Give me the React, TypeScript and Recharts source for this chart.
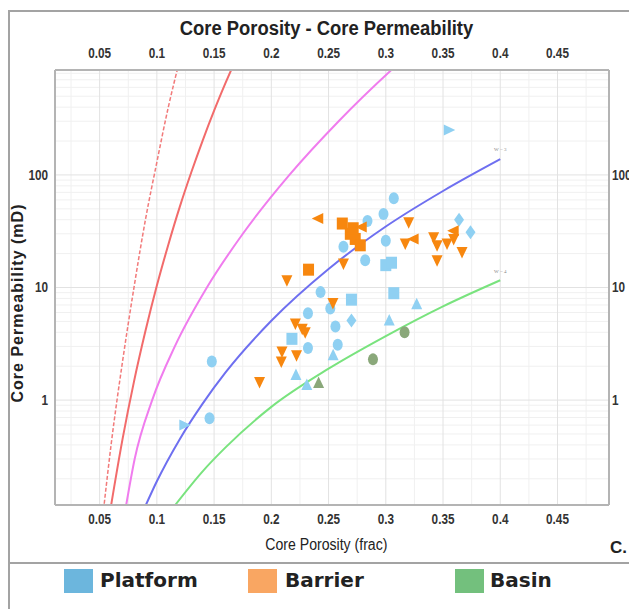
import { ComposedChart, Line, Scatter, XAxis, YAxis, ReferenceLine, ReferenceDot } from "recharts";

const NARROW = '"Liberation Sans Narrow", "Liberation Sans", Arial, sans-serif';
const WIDE = '"DejaVu Sans", Verdana, sans-serif';

// axis ticks
const xTicks = [0.05, 0.1, 0.15, 0.2, 0.25, 0.3, 0.35, 0.4, 0.45];
const xMinor = [0.025, 0.075, 0.125, 0.175, 0.225, 0.275, 0.325, 0.375, 0.425, 0.475];
const yTicks = [1, 10, 100];
const yMinor = [
  0.2, 0.3, 0.4, 0.5, 0.6, 0.7, 0.8, 0.9,
  2, 3, 4, 5, 6, 7, 8, 9,
  20, 30, 40, 50, 60, 70, 80, 90,
  200, 300, 400, 500, 600, 700, 800,
];

// reference curves (porosity, permeability)
const redDashed = [
  { phi: 0.054, k: 0.12 }, { phi: 0.06, k: 0.4 }, { phi: 0.07, k: 2.2 }, { phi: 0.08, k: 10 },
  { phi: 0.09, k: 40 }, { phi: 0.1, k: 130 }, { phi: 0.11, k: 400 }, { phi: 0.12, k: 1050 },
];
const redSolid = [
  { phi: 0.06, k: 0.116 }, { phi: 0.07, k: 0.45 }, { phi: 0.08, k: 1.46 }, { phi: 0.09, k: 4.1 },
  { phi: 0.1, k: 10.4 }, { phi: 0.11, k: 24 }, { phi: 0.12, k: 52 }, { phi: 0.13, k: 105 },
  { phi: 0.14, k: 202 }, { phi: 0.15, k: 372 }, { phi: 0.16, k: 656 }, { phi: 0.17, k: 1120 },
];
const magenta = [
  { phi: 0.0732, k: 0.117 }, { phi: 0.0806, k: 0.3 }, { phi: 0.0959, k: 1 }, { phi: 0.1157, k: 3 },
  { phi: 0.1437, k: 10 }, { phi: 0.1751, k: 30 }, { phi: 0.2158, k: 100 }, { phi: 0.2588, k: 300 },
  { phi: 0.3046, k: 850 }, { phi: 0.3209, k: 1200 },
];
const blueW3 = [
  { phi: 0.0904, k: 0.117 }, { phi: 0.1, k: 0.19 }, { phi: 0.12, k: 0.45 }, { phi: 0.14, k: 0.93 },
  { phi: 0.16, k: 1.76 }, { phi: 0.2, k: 5.06 }, { phi: 0.25, k: 14.6 }, { phi: 0.3, k: 34.8 },
  { phi: 0.35, k: 72 }, { phi: 0.4, k: 138 },
];
const greenW4 = [
  { phi: 0.116, k: 0.117 }, { phi: 0.14, k: 0.233 }, { phi: 0.16, k: 0.38 }, { phi: 0.2, k: 0.87 },
  { phi: 0.25, k: 1.9 }, { phi: 0.3, k: 3.7 }, { phi: 0.35, k: 6.8 }, { phi: 0.4, k: 11.6 },
];

// samples: c circle, s square, t triangle, v down triangle, l left, r right, d diamond
const platform = [
  { phi: 0.355, k: 250, m: "r" }, { phi: 0.307, k: 62, m: "c" }, { phi: 0.298, k: 45, m: "c" },
  { phi: 0.284, k: 39, m: "c" }, { phi: 0.263, k: 23, m: "c" }, { phi: 0.282, k: 17.5, m: "c" },
  { phi: 0.3, k: 26, m: "c" }, { phi: 0.3, k: 15.8, m: "s" }, { phi: 0.305, k: 16.6, m: "s" },
  { phi: 0.243, k: 9.1, m: "c" }, { phi: 0.232, k: 5.9, m: "c" }, { phi: 0.256, k: 4.5, m: "c" },
  { phi: 0.27, k: 7.8, m: "s" }, { phi: 0.307, k: 8.9, m: "s" }, { phi: 0.327, k: 7.1, m: "t" },
  { phi: 0.27, k: 5.1, m: "d" }, { phi: 0.303, k: 5.1, m: "t" }, { phi: 0.2515, k: 6.5, m: "c" },
  { phi: 0.364, k: 40, m: "d" }, { phi: 0.374, k: 31, m: "d" }, { phi: 0.232, k: 2.9, m: "c" },
  { phi: 0.258, k: 3.1, m: "c" }, { phi: 0.254, k: 2.5, m: "t" }, { phi: 0.231, k: 1.36, m: "t" },
  { phi: 0.218, k: 3.5, m: "s" }, { phi: 0.148, k: 2.2, m: "c" }, { phi: 0.146, k: 0.69, m: "c" },
  { phi: 0.124, k: 0.6, m: "r" }, { phi: 0.2215, k: 1.67, m: "t" },
];
const barrier = [
  { phi: 0.241, k: 41, m: "l" }, { phi: 0.2325, k: 14.4, m: "s" }, { phi: 0.2136, k: 11.6, m: "v" },
  { phi: 0.262, k: 37, m: "s" }, { phi: 0.269, k: 30, m: "s" }, { phi: 0.2733, k: 27, m: "s" },
  { phi: 0.2777, k: 23.7, m: "s" }, { phi: 0.2715, k: 33.6, m: "s" }, { phi: 0.279, k: 34.5, m: "l" },
  { phi: 0.263, k: 16.3, m: "v" }, { phi: 0.2538, k: 7.3, m: "v" }, { phi: 0.221, k: 4.8, m: "v" },
  { phi: 0.227, k: 4.3, m: "v" }, { phi: 0.2296, k: 4.0, m: "v" }, { phi: 0.2093, k: 2.7, m: "v" },
  { phi: 0.2087, k: 2.2, m: "v" }, { phi: 0.222, k: 2.5, m: "v" }, { phi: 0.1897, k: 1.45, m: "v" },
  { phi: 0.32, k: 38, m: "v" }, { phi: 0.3243, k: 27, m: "l" }, { phi: 0.317, k: 24.6, m: "v" },
  { phi: 0.3418, k: 28, m: "v" }, { phi: 0.3448, k: 23.7, m: "v" }, { phi: 0.3535, k: 24.6, m: "v" },
  { phi: 0.3593, k: 32, m: "l" }, { phi: 0.3593, k: 27, m: "v" }, { phi: 0.3666, k: 20.7, m: "v" },
  { phi: 0.3448, k: 17.5, m: "v" },
];
const basin = [
  { phi: 0.2413, k: 1.42, m: "t" }, { phi: 0.3164, k: 4.0, m: "c" }, { phi: 0.2888, k: 2.3, m: "c" },
];

const legendItems = [
  { name: "Platform", color: "#6cb6dd", left: 56, textLeft: 92 },
  { name: "Barrier", color: "#f9a662", left: 240, textLeft: 277 },
  { name: "Basin", color: "#73c07d", left: 447, textLeft: 482 },
];

const Marker = (props: any) => {
  const { cx, cy, fill, payload } = props;
  if (cx == null || cy == null) return null;
  switch (payload.m) {
    case "s":
      return <rect x={cx - 5.5} y={cy - 6} width={11} height={12} fill={fill} />;
    case "t":
      return <polygon points={`${cx},${cy - 6.5} ${cx + 5.5},${cy + 5} ${cx - 5.5},${cy + 5}`} fill={fill} />;
    case "v":
      return <polygon points={`${cx - 5.5},${cy - 5} ${cx + 5.5},${cy - 5} ${cx},${cy + 6.5}`} fill={fill} />;
    case "l":
      return <polygon points={`${cx - 6.5},${cy} ${cx + 5},${cy - 5.5} ${cx + 5},${cy + 5.5}`} fill={fill} />;
    case "r":
      return <polygon points={`${cx + 6.5},${cy} ${cx - 5},${cy - 5.5} ${cx - 5},${cy + 5.5}`} fill={fill} />;
    case "d":
      return <polygon points={`${cx},${cy - 7} ${cx + 5},${cy} ${cx},${cy + 7} ${cx - 5},${cy}`} fill={fill} />;
    default:
      return <ellipse cx={cx} cy={cy} rx={5} ry={6} fill={fill} />;
  }
};

// condensed tick text (no narrow font installed)
const CondTick = (props: any) => {
  const { x, y, payload, textAnchor, verticalAnchor } = props;
  const dy = verticalAnchor === "start" ? "0.71em" : verticalAnchor === "end" ? "0" : "0.355em";
  return (
    <g transform={`translate(${x},${y}) scale(0.84,1)`}>
      <text x={0} y={0} dy={dy} textAnchor={textAnchor} fontSize={14} fontWeight="bold" fill="#333" fontFamily={NARROW}>
        {payload.value}
      </text>
    </g>
  );
};

const X_DOMAIN: [number, number] = [0.011, 0.495];
const Y_DOMAIN: [number, number] = [0.117, 855];

export default function App() {
  return (
    <div style={{ position: "relative", width: 629, height: 601, overflow: "hidden", background: "#fff" }}>
      <style>{`html, body { overflow: hidden; }`}</style>
      {/* outer frame */}
      <div style={{ position: "absolute", left: 0, top: 2, width: 660, height: 554, border: "2px solid #a3a3a3", boxSizing: "border-box" }} />
      <div style={{ position: "absolute", left: 0, top: 2, width: 2, height: 620, background: "#a3a3a3" }} />

      <div style={{ position: "absolute", left: 0, top: 0 }}>
        <ComposedChart width={629} height={552} margin={{ top: 40, right: 6, bottom: 33, left: 7 }}>
          <XAxis
            type="number"
            dataKey="phi"
            domain={X_DOMAIN}
            allowDataOverflow
            ticks={xTicks}
            tick={<CondTick />}
            tickLine={false}
            tickSize={0}
            tickMargin={9}
            height={22}
            axisLine={{ stroke: "#b4b4b4", strokeWidth: 2 }}
          />
          <XAxis
            xAxisId="top"
            orientation="top"
            type="number"
            dataKey="phi"
            domain={X_DOMAIN}
            allowDataOverflow
            ticks={xTicks}
            tick={<CondTick />}
            tickLine={false}
            tickSize={0}
            tickMargin={12}
            height={22}
            axisLine={{ stroke: "#b4b4b4", strokeWidth: 2 }}
          />
          <YAxis
            type="number"
            dataKey="k"
            scale="log"
            domain={Y_DOMAIN}
            allowDataOverflow
            ticks={yTicks}
            tick={<CondTick />}
            tickLine={false}
            tickSize={0}
            tickMargin={7}
            width={40}
            axisLine={{ stroke: "#b4b4b4", strokeWidth: 2 }}
          />
          <YAxis
            yAxisId="right"
            orientation="right"
            type="number"
            scale="log"
            domain={Y_DOMAIN}
            allowDataOverflow
            ticks={yTicks}
            tick={<CondTick />}
            tickLine={false}
            tickSize={0}
            tickMargin={3}
            width={22}
            axisLine={{ stroke: "#b4b4b4", strokeWidth: 2 }}
          />

          {/* grid */}
          {xMinor.map((v) => (
            <ReferenceLine key={`xm${v}`} x={v} stroke="#f0f0f0" strokeWidth={1} />
          ))}
          {yMinor.map((v) => (
            <ReferenceLine key={`ym${v}`} y={v} stroke="#f0f0f0" strokeWidth={1} />
          ))}
          {xTicks.map((v) => (
            <ReferenceLine key={`x${v}`} x={v} stroke="#e2e2e2" strokeWidth={1} />
          ))}
          {yTicks.map((v) => (
            <ReferenceLine key={`y${v}`} y={v} stroke="#e2e2e2" strokeWidth={1} />
          ))}

          {/* curves */}
          <Line data={redDashed} dataKey="k" type="monotone" stroke="#f27a7a" strokeWidth={1.5} strokeDasharray="4 2" dot={false} isAnimationActive={false} />
          <Line data={redSolid} dataKey="k" type="monotone" stroke="#f26b6b" strokeWidth={2} dot={false} isAnimationActive={false} />
          <Line data={magenta} dataKey="k" type="monotone" stroke="#f07cee" strokeWidth={2} dot={false} isAnimationActive={false} />
          <Line data={blueW3} dataKey="k" type="monotone" stroke="#6e6ff0" strokeWidth={2} dot={false} isAnimationActive={false} />
          <Line data={greenW4} dataKey="k" type="monotone" stroke="#79e37e" strokeWidth={2} dot={false} isAnimationActive={false} />
          <ReferenceDot x={0.4} y={168} r={0} label={{ value: "W = 3", fontSize: 5, fill: "#888" }} />
          <ReferenceDot x={0.4} y={14} r={0} label={{ value: "W = 4", fontSize: 5, fill: "#888" }} />

          {/* samples */}
          <Scatter name="Platform" data={platform} dataKey="k" fill="#8fd0f2" shape={Marker} isAnimationActive={false} />
          <Scatter name="Barrier" data={barrier} dataKey="k" fill="#f7870f" shape={Marker} isAnimationActive={false} />
          <Scatter name="Basin" data={basin} dataKey="k" fill="#8aa87a" shape={Marker} isAnimationActive={false} />
        </ComposedChart>
      </div>

      {/* title */}
      <div style={{ position: "absolute", left: 0, width: 636, top: 9, textAlign: "center" }}>
        <span style={{ display: "inline-block", transform: "scaleX(0.92)", fontFamily: NARROW, fontWeight: "bold", fontSize: 20, color: "#222" }}>
          Core Porosity - Core Permeability
        </span>
      </div>

      {/* y label */}
      <div
        style={{
          position: "absolute",
          left: 10,
          top: 295,
          transform: "translate(-50%, -50%) rotate(-90deg)",
          whiteSpace: "nowrap",
          fontFamily: '"Liberation Sans", Arial, sans-serif',
          fontWeight: "bold",
          fontSize: 16,
          letterSpacing: 1.0,
          color: "#222",
        }}
      >
        Core Permeability (mD)
      </div>

      {/* x label */}
      <div style={{ position: "absolute", left: 0, width: 636, top: 528, textAlign: "center" }}>
        <span style={{ display: "inline-block", transform: "scaleX(0.88)", fontFamily: NARROW, fontSize: 16, color: "#222" }}>
          Core Porosity (frac)
        </span>
      </div>
      <div style={{ position: "absolute", left: 602, top: 530, fontFamily: '"Liberation Sans", Arial, sans-serif', fontWeight: "bold", fontSize: 17, color: "#222" }}>
        C.
      </div>

      {/* legend */}
      {legendItems.map((it) => (
        <div key={it.name}>
          <div style={{ position: "absolute", left: it.left, top: 561, width: 29, height: 24, background: it.color }} />
          <div style={{ position: "absolute", left: it.textLeft, top: 560, fontFamily: WIDE, fontWeight: "bold", fontSize: 20, color: "#222" }}>
            {it.name}
          </div>
        </div>
      ))}
    </div>
  );
}
